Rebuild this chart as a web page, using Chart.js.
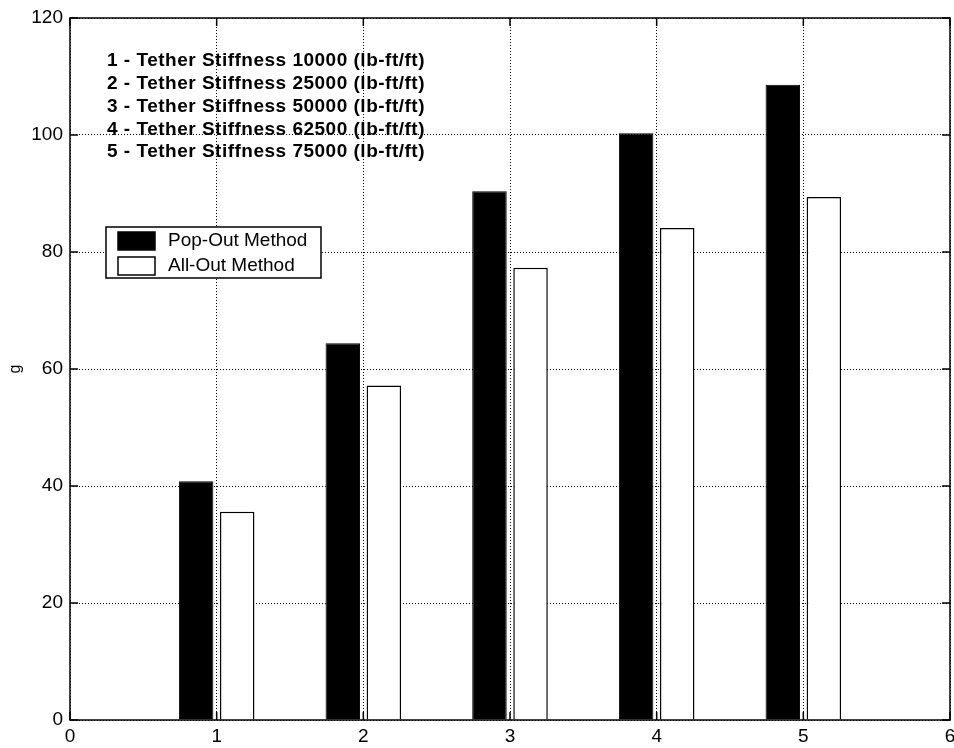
<!DOCTYPE html>
<html>
<head>
<meta charset="utf-8">
<script src="https://cdn.jsdelivr.net/npm/chart.js@4/dist/chart.umd.min.js"></script>
<style>
  html, body { margin: 0; padding: 0; background: #fff; }
  #wrap { width: 954px; height: 748px; }
</style>
</head>
<body>
<div id="wrap"><canvas id="chart" width="954" height="748"></canvas></div>
<script>
// tether stiffness case number vs peak g, two separation methods
const caseNo    = [1, 2, 3, 4, 5];
const popOutG   = [40.8, 64.4, 90.4, 100.3, 108.6];
const allOutG   = [35.6, 57.2, 77.3, 84.1, 89.4];
const seriesNames = ['Pop-Out Method', 'All-Out Method'];
const stiffnessNotes = [
  '1 - Tether Stiffness 10000 (lb-ft/ft)',
  '2 - Tether Stiffness 25000 (lb-ft/ft)',
  '3 - Tether Stiffness 50000 (lb-ft/ft)',
  '4 - Tether Stiffness 62500 (lb-ft/ft)',
  '5 - Tether Stiffness 75000 (lb-ft/ft)',
];
const yTitle = 'g';

const FONT = "'Liberation Sans', Arial, sans-serif";

// box + inward ticks, like the old matlab axes
const axesBox = {
  id: 'axesBox',
  afterDatasetsDraw(chart) {
    const { ctx, chartArea: a, scales: { x, y } } = chart;
    ctx.save();
    ctx.strokeStyle = '#000';
    ctx.lineWidth = 1.5;
    ctx.strokeRect(a.left, a.top, a.right - a.left, a.bottom - a.top);
    ctx.beginPath();
    y.ticks.forEach(t => {
      const py = y.getPixelForValue(t.value);
      ctx.moveTo(a.left, py); ctx.lineTo(a.left + 8, py);
      ctx.moveTo(a.right, py); ctx.lineTo(a.right - 8, py);
    });
    x.ticks.forEach(t => {
      const px = x.getPixelForValue(t.value);
      ctx.moveTo(px, a.bottom); ctx.lineTo(px, a.bottom - 8);
      ctx.moveTo(px, a.top); ctx.lineTo(px, a.top + 8);
    });
    ctx.stroke();
    ctx.restore();
  }
};

const notesAndLegend = {
  id: 'notesAndLegend',
  afterDraw(chart) {
    const { ctx, chartArea: a } = chart;
    ctx.save();
    // stiffness notes
    ctx.fillStyle = '#000';
    ctx.font = 'bold 19px ' + FONT;
    ctx.letterSpacing = '0.5px';
    ctx.textBaseline = 'middle';
    ctx.textAlign = 'left';
    stiffnessNotes.forEach((s, i) => ctx.fillText(s, 107, 61 + i * 22.8));
    ctx.letterSpacing = '0px';

    // legend box
    const bx = 106, by = 227, bw = 215, bh = 51;
    ctx.fillStyle = '#fff';
    ctx.fillRect(bx, by, bw, bh);
    ctx.strokeStyle = '#000';
    ctx.lineWidth = 1.5;
    ctx.strokeRect(bx, by, bw, bh);
    ctx.font = '19px ' + FONT;
    chart.data.datasets.forEach((ds, i) => {
      const sy = 232 + i * 25;
      ctx.fillStyle = ds.backgroundColor;
      ctx.fillRect(118, sy, 37, 18);
      ctx.strokeStyle = '#000';
      ctx.strokeRect(118, sy, 37, 18);
      ctx.fillStyle = '#000';
      ctx.fillText(ds.label, 168, sy + 9);
    });

    // y title
    ctx.translate(16, (a.top + a.bottom) / 2);
    ctx.rotate(-Math.PI / 2);
    ctx.textAlign = 'center';
    ctx.font = '16px ' + FONT;
    ctx.fillText(yTitle, 0, 0);
    ctx.restore();
  }
};

const gridStyle = {
  color: '#000',
  lineWidth: 1,
  drawTicks: false,
  offset: false,
};

const tickFont = { family: FONT, size: 19 };

new Chart(document.getElementById('chart').getContext('2d'), {
  type: 'bar',
  data: {
    datasets: [
      {
        label: seriesNames[0],
        data: caseNo.map((c, i) => ({ x: c, y: popOutG[i] })),
        backgroundColor: '#000',
        borderColor: '#000',
        borderWidth: 1,
      },
      {
        label: seriesNames[1],
        data: caseNo.map((c, i) => ({ x: c, y: allOutG[i] })),
        backgroundColor: '#fff',
        borderColor: '#000',
        borderWidth: 1.5,
      },
    ],
  },
  options: {
    responsive: false,
    animation: false,
    categoryPercentage: 0.56,
    barPercentage: 0.84,
    layout: { padding: { left: 0, top: 18, right: 4, bottom: 0 } },
    scales: {
      x: {
        type: 'linear',
        offset: false,
        min: 0,
        max: 6,
        border: { display: false, dash: [1, 2] },
        grid: gridStyle,
        ticks: { stepSize: 1, padding: 5, color: '#000', font: tickFont, maxRotation: 0 },
        afterFit: s => { s.height = 28; s.paddingLeft = 0; s.paddingRight = 0; },
      },
      y: {
        min: 0,
        max: 120,
        border: { display: false, dash: [1, 2] },
        grid: gridStyle,
        ticks: { stepSize: 20, padding: 7, color: '#000', font: tickFont },
        afterFit: s => { s.width = 70; s.paddingTop = 0; s.paddingBottom = 0; },
      },
    },
    plugins: {
      legend: { display: false },
      tooltip: { enabled: false },
    },
  },
  plugins: [axesBox, notesAndLegend],
});
</script>
</body>
</html>
